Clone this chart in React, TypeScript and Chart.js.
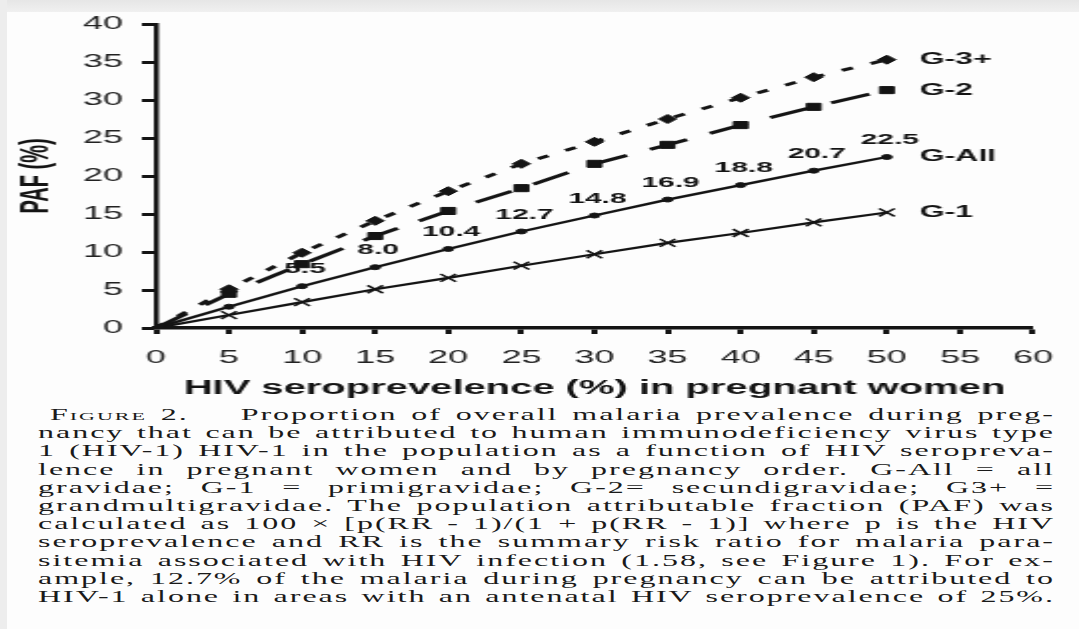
import React, { useEffect, useRef } from "react";
import { Chart, registerables } from "chart.js";

Chart.register(...registerables);

// HIV seroprevalence among pregnant women (%)
const seroprevalence = [0, 5, 10, 15, 20, 25, 30, 35, 40, 45, 50];

// Population attributable fraction (%) by pregnancy order
const pafG3plus = [0, 5.1, 9.9, 14.1, 18.0, 21.6, 24.5, 27.5, 30.3, 33.0, 35.3];
const pafG2 = [0, 4.5, 8.4, 12.1, 15.4, 18.4, 21.6, 24.1, 26.7, 29.1, 31.3];
const pafGAll = [0, 2.8, 5.5, 8.0, 10.4, 12.7, 14.8, 16.9, 18.8, 20.7, 22.5];
const pafG1 = [0, 1.7, 3.4, 5.1, 6.6, 8.2, 9.7, 11.2, 12.5, 13.9, 15.2];

const seriesNames = ["G-3+", "G-2", "G-All", "G-1"];

// Axis ranges and tick step
const xRange = [0, 60];
const yRange = [0, 40];
const tickStep = 5;

// First seroprevalence value whose G-All PAF is printed above the point
const firstLabelled = 10;

const xTitle = "HIV seroprevelence (%) in pregnant women";
const yTitle = "PAF (%)";

const captionLines = [
  "Proportion of overall malaria prevalence during preg-",
  "nancy that can be attributed to human immunodeficiency virus type",
  "1 (HIV-1) HIV-1 in the population as a function of HIV seropreva-",
  "lence in pregnant women and by pregnancy order. G-All = all",
  "gravidae; G-1 = primigravidae; G-2= secundigravidae; G3+ =",
  "grandmultigravidae. The population attributable fraction (PAF) was",
  "calculated as 100 \u00d7 [p(RR - 1)/(1 + p(RR - 1)] where p is the HIV",
  "seroprevalence and RR is the summary risk ratio for malaria para-",
  "sitemia associated with HIV infection (1.58, see Figure 1). For ex-",
  "ample, 12.7% of the malaria during pregnancy can be attributed to",
  "HIV-1 alone in areas with an antenatal HIV seroprevalence of 25%.",
];

const INK = "#141414";
const SANS = '"Liberation Sans", Arial, Helvetica, sans-serif';

const toPoints = (ys: number[]) => seroprevalence.map((x, i) => ({ x, y: ys[i] }));

// Value labels along G-All and series names at the line ends
const annotations = {
  id: "pafAnnotations",
  afterDatasetsDraw(chart: any) {
    const ctx = chart.ctx;
    ctx.save();
    ctx.fillStyle = INK;
    ctx.textBaseline = "middle";

    const allIndex = seriesNames.indexOf("G-All");
    const allMeta = chart.getDatasetMeta(allIndex);
    ctx.font = `bold 15px ${SANS}`;
    ctx.textAlign = "center";
    allMeta.data.forEach((pt: any, i: number) => {
      if (seroprevalence[i] < firstLabelled) return;
      ctx.fillText(pafGAll[i].toFixed(1), pt.x + 1.5, pt.y - 17);
    });

    ctx.font = `bold 16px ${SANS}`;
    ctx.textAlign = "left";
    chart.data.datasets.forEach((ds: any, di: number) => {
      const meta = chart.getDatasetMeta(di);
      const last = meta.data[meta.data.length - 1];
      ctx.fillText(ds.label, last.x + 16.5, last.y);
    });
    ctx.restore();
  },
};

export default function App() {
  const canvasRef = useRef<HTMLCanvasElement>(null);

  useEffect(() => {
    const canvas = canvasRef.current;
    if (!canvas) return;

    const chart = new Chart(canvas, {
      type: "line",
      data: {
        datasets: [
          {
            label: seriesNames[0],
            data: toPoints(pafG3plus),
            borderColor: INK,
            backgroundColor: INK,
            borderWidth: 3,
            borderDash: [6, 10],
            pointStyle: "rectRot",
            pointRadius: 4.5,
            pointBorderWidth: 1,
          },
          {
            label: seriesNames[1],
            data: toPoints(pafG2),
            borderColor: INK,
            backgroundColor: INK,
            borderWidth: 3,
            borderDash: [21, 13],
            pointStyle: "rect",
            pointRadius: 5,
            pointBorderWidth: 1,
          },
          {
            label: seriesNames[2],
            data: toPoints(pafGAll),
            borderColor: INK,
            backgroundColor: INK,
            borderWidth: 2.4,
            pointStyle: "circle",
            pointRadius: 2.5,
            pointBorderWidth: 1,
          },
          {
            label: seriesNames[3],
            data: toPoints(pafG1),
            borderColor: INK,
            backgroundColor: INK,
            borderWidth: 2.2,
            pointStyle: "crossRot",
            pointRadius: 5.5,
            pointBorderWidth: 1.5,
          },
        ],
      },
      options: {
        responsive: false,
        animation: false,
        events: [],
        layout: { padding: { left: 0, top: 24, right: 21.5, bottom: 0 } },
        plugins: {
          legend: { display: false },
          tooltip: { enabled: false },
        },
        scales: {
          x: {
            type: "linear",
            min: xRange[0],
            max: xRange[1],
            afterFit: (s: any) => {
              s.height = 74;
            },
            ticks: {
              stepSize: tickStep,
              color: "#222",
              font: { family: SANS, size: 18 },
              padding: 13,
              maxRotation: 0,
            },
            grid: {
              drawOnChartArea: false,
              drawTicks: true,
              tickLength: 6,
              tickWidth: 3,
              tickColor: INK,
            },
            border: { display: true, color: INK, width: 3.5 },
            title: {
              display: true,
              text: xTitle,
              color: INK,
              font: { family: SANS, size: 20, weight: "bold" },
              padding: { top: 0, bottom: 2 },
            },
          },
          y: {
            type: "linear",
            min: yRange[0],
            max: yRange[1],
            afterFit: (s: any) => {
              s.width = 78;
            },
            ticks: {
              stepSize: tickStep,
              color: "#222",
              font: { family: SANS, size: 18 },
              padding: 9.5,
            },
            grid: {
              drawOnChartArea: false,
              drawTicks: true,
              tickLength: 7,
              tickWidth: 3,
              tickColor: INK,
            },
            border: { display: true, color: INK, width: 2.5 },
            title: {
              display: true,
              text: yTitle,
              color: INK,
              font: { family: SANS, size: 20, weight: "bold" },
              padding: { top: 6, bottom: 0 },
            },
          },
        },
      },
      plugins: [annotations],
    } as any);

    return () => chart.destroy();
  }, []);

  return (
    <div
      style={{
        position: "absolute",
        left: 0,
        top: 0,
        width: 1079,
        height: 629,
        background: "#fdfdfd",
        overflow: "hidden",
      }}
    >
      <div style={{ position: "absolute", left: 0, top: 0, width: 1079, height: 12, background: "linear-gradient(#e6e6e6, #f0f0f0)" }} />
      <div style={{ position: "absolute", left: 0, top: 0, width: 7, height: 629, background: "#ededed" }} />
      {/* drawn at half width, then stretched horizontally */}
      <canvas
        ref={canvasRef}
        width={540}
        height={402}
        style={{ position: "absolute", left: 0, top: 0, width: 1079, height: 402 }}
      />
      <div
        style={{
          position: "absolute",
          left: 38,
          top: 406,
          width: 509,
          transform: "scaleX(1.998)",
          transformOrigin: "0 0",
          fontFamily: '"Liberation Serif", "Times New Roman", serif',
          fontSize: 16,
          lineHeight: "18.2px",
          color: "#1a1a1a",
          letterSpacing: "1px",
        }}
      >
        {captionLines.map((line, i) => (
          <div
            key={i}
            style={{ textAlign: "justify", textAlignLast: "justify", whiteSpace: "nowrap", paddingLeft: i === 0 ? 6 : 0 }}
          >
            {i === 0 ? (
              <>
                <span style={{ fontVariant: "small-caps" }}>Figure 2.</span>
                <span style={{ display: "inline-block", width: 26 }} />
                {line}
              </>
            ) : (
              line
            )}
          </div>
        ))}
      </div>
    </div>
  );
}
